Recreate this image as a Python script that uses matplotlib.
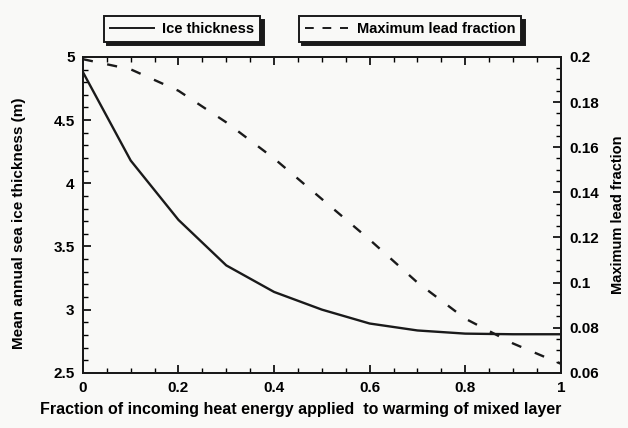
import matplotlib
matplotlib.use("Agg")
import matplotlib.pyplot as plt
from matplotlib.ticker import MultipleLocator, FuncFormatter
from matplotlib.lines import Line2D

plt.rcParams['font.family'] = ['Liberation Sans', 'DejaVu Sans']
plt.rcParams['font.weight'] = 'bold'

# Data
heat_fraction = [0.0, 0.1, 0.2, 0.3, 0.4, 0.5, 0.6, 0.7, 0.8, 0.9, 1.0]
ice_thickness = [4.88, 4.18, 3.71, 3.35, 3.14, 3.00, 2.89, 2.835, 2.81, 2.805, 2.805]
lead_fraction = [0.199, 0.1945, 0.185, 0.171, 0.155, 0.137, 0.119, 0.100, 0.084, 0.073, 0.064]

x_label = "Fraction of incoming heat energy applied  to warming of mixed layer"
y_left_label = "Mean annual sea ice thickness (m)"
y_right_label = "Maximum lead fraction"
legend_labels = ["Ice thickness", "Maximum lead fraction"]

bg = '#f9f9f7'
fig = plt.figure(figsize=(6.28, 4.28), dpi=100, facecolor=bg)
ax = fig.add_axes([0.132, 0.129, 0.761, 0.738])
ax.set_facecolor(bg)
ax2 = ax.twinx()

ax.plot(heat_fraction, ice_thickness, color='#1a1a1a', lw=1.7, solid_joinstyle='miter')
ax2.plot(heat_fraction, lead_fraction, color='#1a1a1a', lw=1.7, ls=(0, (4.3, 6.2)))

ax.set_xlim(0, 1)
ax.set_ylim(2.5, 5)
ax2.set_ylim(0.06, 0.2)

fmt = FuncFormatter(lambda v, p: ('%g' % round(v, 4)))
ax.xaxis.set_major_locator(MultipleLocator(0.2))
ax.xaxis.set_minor_locator(MultipleLocator(0.05))
ax.yaxis.set_major_locator(MultipleLocator(0.5))
ax.yaxis.set_minor_locator(MultipleLocator(0.1))
ax2.yaxis.set_major_locator(MultipleLocator(0.02))
ax2.yaxis.set_minor_locator(MultipleLocator(0.005))
ax.xaxis.set_major_formatter(fmt)
ax.yaxis.set_major_formatter(fmt)
ax2.yaxis.set_major_formatter(fmt)

ax.tick_params(axis='x', which='both', direction='in', top=True, bottom=True)
ax.tick_params(axis='y', which='both', direction='in', left=True, right=False)
ax2.tick_params(axis='y', which='both', direction='in', right=True)
for a in (ax, ax2):
    a.tick_params(which='major', length=6, width=1.2, labelsize=11, pad=6)
    a.tick_params(which='minor', length=3.5, width=1.0)
    for s in a.spines.values():
        s.set_linewidth(1.4)
        s.set_color('#1a1a1a')

ax.set_xlabel(x_label, fontsize=11.5, fontweight='bold', labelpad=5)
ax.xaxis.label.set_x(0.456)
ax.set_ylabel(y_left_label, fontsize=11, fontweight='bold', labelpad=20)
ax.yaxis.label.set_y(0.475)
ax2.set_ylabel(y_right_label, fontsize=10.5, fontweight='bold', labelpad=9)

h1 = Line2D([], [], color='#1a1a1a', lw=1.4)
h2 = Line2D([], [], color='#1a1a1a', lw=1.4, ls=(0, (4.5, 4.5)))
shadow = {'color': '#1a1a1a', 'alpha': 1, 'ox': 2.5, 'oy': -2.5}
leg1 = fig.legend([h1], [legend_labels[0]], loc='center', bbox_to_anchor=(0.290, 0.932),
                  frameon=True, fancybox=False, shadow=shadow, fontsize=10.5,
                  handlelength=3.0, handletextpad=0.6, borderpad=0.4)
leg2 = fig.legend([h2], [legend_labels[1]], loc='center', bbox_to_anchor=(0.653, 0.932),
                  frameon=True, fancybox=False, shadow=shadow, fontsize=10.5,
                  handlelength=3.0, handletextpad=0.6, borderpad=0.4)
for lg in (leg1, leg2):
    fr = lg.get_frame()
    fr.set_edgecolor('#1a1a1a')
    fr.set_linewidth(1.4)
    fr.set_facecolor(bg)
    fr.set_alpha(1)

fig.savefig('out.png', dpi=100, facecolor=bg)
